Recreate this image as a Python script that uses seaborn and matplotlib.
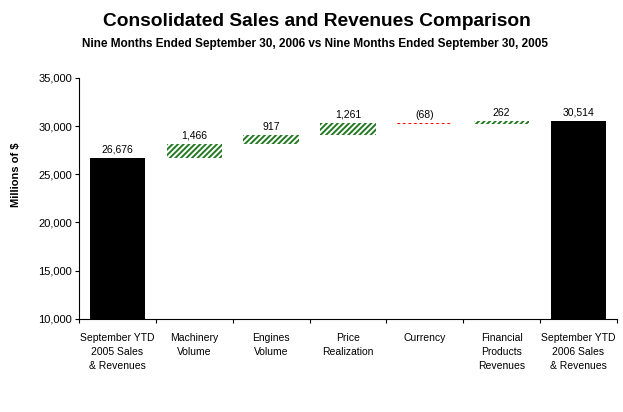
import numpy as np
import pandas as pd
import matplotlib
matplotlib.use("Agg")
import matplotlib.pyplot as plt
import seaborn as sb

categorii = ["September YTD\n2005 Sales\n& Revenues", "Machinery\nVolume", "Engines\nVolume",
             "Price\nRealization", "Currency", "Financial\nProducts\nRevenues",
             "September YTD\n2006 Sales\n& Revenues"]
start_total = 26676
variatii = [1466, 917, 1261, -68, 262]
end_total = 30514
etichete = ["26,676", "1,466", "917", "1,261", "(68)", "262", "30,514"]

sb.set_style("white")
plt.rcParams["font.family"] = ["Liberation Sans", "DejaVu Sans"]
plt.rcParams["hatch.linewidth"] = 1.4
plt.rcParams["text.color"] = "black"
plt.rcParams["xtick.color"] = "black"
plt.rcParams["ytick.color"] = "black"
plt.rcParams["axes.labelcolor"] = "black"

fig = plt.figure(figsize=(6.23, 4.12), dpi=100)
ax = fig.add_axes([0.127, 0.226, 0.863, 0.585])

# barele de total prin seaborn
totaluri = [start_total] + [np.nan] * len(variatii) + [end_total]
t = pd.DataFrame({"cat": categorii, "val": totaluri})
sb.barplot(data=t, x="cat", y="val", order=categorii, color="black",
           width=0.72, saturation=1, ax=ax, edgecolor="black", linewidth=0)

# variatiile, ca dreptunghiuri plutitoare
nivel = start_total
varfuri = [start_total]
for i, d in enumerate(variatii):
    culoare = "#237a23" if d >= 0 else "#ff0000"
    jos = nivel if d >= 0 else nivel + d
    ax.bar(i + 1, abs(d), bottom=jos, width=0.72, color="white",
           edgecolor=culoare, hatch="//////", linewidth=0)
    nivel += d
    varfuri.append(max(nivel, nivel - d))
varfuri.append(end_total)

for i, (v, e) in enumerate(zip(varfuri, etichete)):
    ax.text(i, v + 350, e, ha="center", va="bottom", fontsize=7.5, color="black")

ax.set_ylim(10000, 35000)
ax.set_xlim(-0.5, len(categorii) - 0.5)
ax.set_yticks(np.arange(10000, 35001, 5000))
ax.set_yticklabels([f"{v:,}" for v in range(10000, 35001, 5000)], fontsize=8)
ax.set_xticks(range(len(categorii)))
ax.set_xticklabels(categorii, fontsize=7.5, linespacing=1.5)
ax.set_xticks(np.arange(-0.5, len(categorii), 1), minor=True)
ax.tick_params(axis="x", which="major", length=0, pad=10)
ax.tick_params(axis="x", which="minor", length=3, direction="out", width=0.8, bottom=True)
ax.tick_params(axis="y", length=3, direction="out", width=0.8, left=True, pad=2)
ax.set_xlabel("")
ax.set_ylabel("Millions of $", fontsize=8, fontweight="bold")
ax.yaxis.set_label_coords(-0.108, 0.6)
for s in ["top", "right"]:
    ax.spines[s].set_visible(False)
for s in ["left", "bottom"]:
    ax.spines[s].set_color("black")
    ax.spines[s].set_linewidth(0.8)

fig.text(0.508, 0.947, "Consolidated Sales and Revenues Comparison", ha="center",
         va="center", fontsize=13.8, fontweight="bold")
fig.text(0.506, 0.893, "Nine Months Ended September 30, 2006 vs Nine Months Ended September 30, 2005",
         ha="center", va="center", fontsize=8.5, fontweight="bold")

fig.savefig("out.png", dpi=100)
